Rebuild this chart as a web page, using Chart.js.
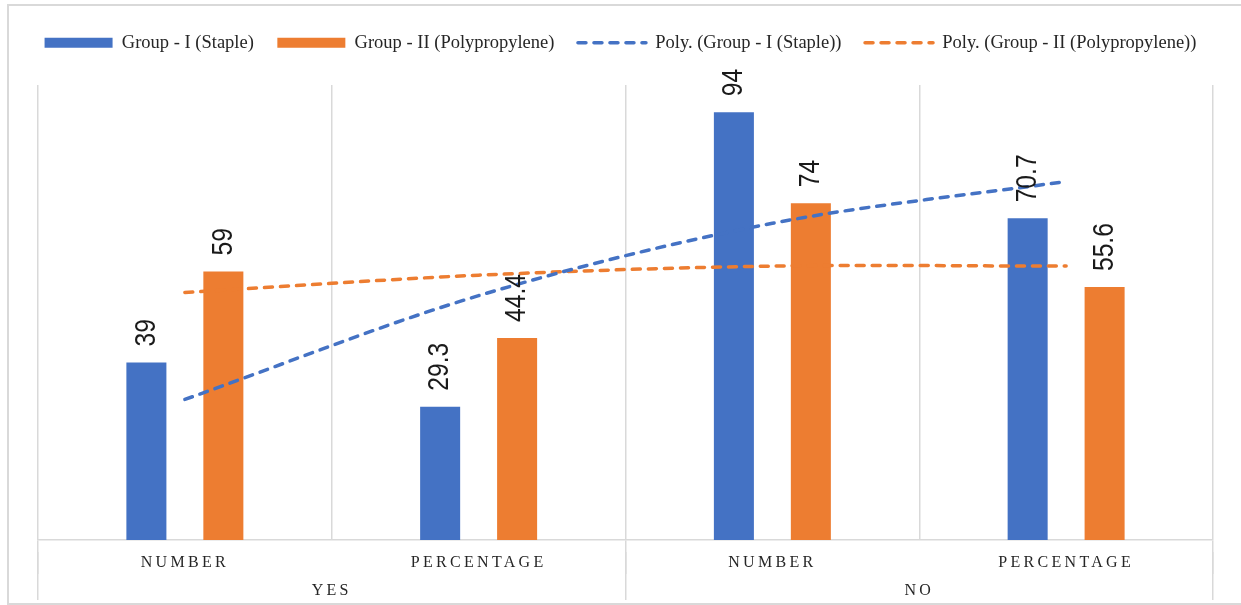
<!DOCTYPE html>
<html lang="en">
  <head>
    <meta charset="UTF-8" />
    <title>Group I (Staple) vs Group II (Polypropylene)</title>
    <script src="https://cdn.jsdelivr.net/npm/chart.js"></script>
    <style>
      body {
        margin: 0;
        background-color: #ffffff;
      }

      .wrap {
        position: relative;
        width: 1241px;
        height: 605px;
        overflow: hidden;
      }

      .frame {
        position: absolute;
        left: 7px;
        top: 4px;
        width: 1300px;
        height: 601px;
        box-sizing: border-box;
        border: 2px solid #d9d9d9;
      }

      canvas {
        position: absolute;
        left: 0;
        top: 0;
      }
    </style>
  </head>
  <body>
    <div class="wrap">
      <div class="frame"></div>
      <canvas id="groupChart" width="1241" height="605"></canvas>
    </div>

    <script>
      // categories (two levels) and series
      const categories = ["NUMBER", "PERCENTAGE", "NUMBER", "PERCENTAGE"];
      const groups = ["YES", "NO"];
      const stapleValues = [39, 29.3, 94, 70.7];
      const polyValues = [59, 44.4, 74, 55.6];

      // polynomial trendlines at each category
      const stapleTrend = [30.9, 53.7, 69.6, 78.8];
      const polyTrend = [54.4, 58.2, 60.2, 60.2];

      const blue = "#4472c4";
      const orange = "#ed7d31";
      const gridColor = "#d9d9d9";
      const serif = '"Liberation Serif", "Times New Roman", serif';

      // value labels drawn rotated above each bar
      const barLabels = {
        id: "barLabels",
        afterDatasetsDraw(chart) {
          const ctx = chart.ctx;
          [0, 1].forEach((di) => {
            const meta = chart.getDatasetMeta(di);
            const values = chart.data.datasets[di].data;
            meta.data.forEach((bar, i) => {
              ctx.save();
              ctx.translate(bar.x, bar.y - 16);
              ctx.rotate(-Math.PI / 2);
              ctx.scale(0.82, 1);
              ctx.font = '30px "Liberation Sans", Arial, sans-serif';
              ctx.fillStyle = "#1a1a1a";
              ctx.textAlign = "left";
              ctx.textBaseline = "middle";
              ctx.fillText(String(values[i]), 0, 0);
              ctx.restore();
            });
          });
        },
      };

      // spaced capitals on the category axes, labels not clipped to the axis box
      const spacedTicks = {
        id: "spacedTicks",
        beforeDraw(chart) {
          ["x", "x2"].forEach((id) => {
            const scale = chart.scales[id];
            if (!scale || scale._spaced) return;
            const orig = scale.drawLabels;
            scale._computeLabelArea = () => undefined;
            scale.drawLabels = function (area) {
              this.ctx.save();
              this.ctx.letterSpacing = "3.3px";
              orig.call(this, area);
              this.ctx.restore();
            };
            scale._spaced = true;
          });
        },
      };

      // extra room between the legend and the plot
      const legendGap = {
        id: "legendGap",
        beforeInit(chart) {
          const fit = chart.legend.fit;
          chart.legend.fit = function () {
            fit.call(this);
            this.height += 23;
          };
        },
      };

      // gridline goes below the axis only at the YES / NO boundaries
      const tickColor = (c) =>
        c.index === 1 || c.index === 3 ? "rgba(0,0,0,0)" : gridColor;

      // empty side axes only reserve room for the plot area
      const spacer = (w, pos) => ({
        type: "linear",
        position: pos,
        min: 0,
        max: 100,
        ticks: { display: false },
        grid: { display: false },
        border: { display: false },
        afterFit: (s) => {
          s.width = w;
        },
      });

      const trendLine = (label, data, color) => ({
        type: "line",
        label: label,
        data: data,
        borderColor: color,
        backgroundColor: color,
        borderWidth: 3.5,
        borderDash: [8, 8],
        borderCapStyle: "round",
        pointRadius: 0,
        tension: 0.33,
        order: 0,
      });

      new Chart(document.getElementById("groupChart"), {
        type: "bar",
        data: {
          labels: categories,
          datasets: [
            {
              label: "Group - I (Staple)",
              data: stapleValues,
              backgroundColor: blue,
              borderWidth: 0,
              categoryPercentage: 0.524,
              barPercentage: 0.52,
              order: 1,
            },
            {
              label: "Group - II (Polypropylene)",
              data: polyValues,
              backgroundColor: orange,
              borderWidth: 0,
              categoryPercentage: 0.524,
              barPercentage: 0.52,
              order: 1,
            },
            trendLine("Poly. (Group - I (Staple))", stapleTrend, blue),
            trendLine("Poly. (Group - II (Polypropylene))", polyTrend, orange),
          ],
        },
        options: {
          responsive: false,
          animation: false,
          layout: {
            padding: { left: 0, right: 0, top: 10, bottom: 23 },
          },
          plugins: {
            tooltip: { enabled: false },
            legend: {
              position: "top",
              labels: {
                usePointStyle: true,
                pointStyleWidth: 68,
                boxHeight: 10,
                padding: 23.5,
                color: "#262626",
                font: { family: serif, size: 18.5 },
                sort: (a, b) => a.datasetIndex - b.datasetIndex,
                generateLabels(chart) {
                  const items = Chart.defaults.plugins.legend.labels.generateLabels(chart);
                  items.forEach((item) => {
                    const ds = chart.data.datasets[item.datasetIndex];
                    if (ds.type === "line") {
                      item.pointStyle = "line";
                      item.lineWidth = 3.5;
                      item.lineDash = [8, 8];
                      item.lineCap = "round";
                    } else {
                      item.pointStyle = "rect";
                      item.lineWidth = 0;
                    }
                  });
                  return items;
                },
              },
            },
          },
          scales: {
            x: {
              type: "category",
              position: "bottom",
              weight: 0,
              offset: true,
              grid: {
                offset: true,
                color: gridColor,
                lineWidth: 1.5,
                tickColor: tickColor,
                tickWidth: 1.5,
                tickLength: 34,
              },
              border: { display: true, color: gridColor, width: 1.5 },
              ticks: {
                color: "#262626",
                padding: -20.6,
                maxRotation: 0,
                autoSkip: false,
                font: { family: serif, size: 16 },
              },
            },
            x2: {
              type: "category",
              labels: groups,
              position: "bottom",
              weight: 1,
              offset: true,
              grid: {
                offset: true,
                drawOnChartArea: false,
                color: gridColor,
                lineWidth: 1.5,
                tickColor: gridColor,
                tickWidth: 1.5,
                tickLength: 48,
              },
              border: { display: false },
              ticks: {
                color: "#262626",
                padding: -18.6,
                maxRotation: 0,
                autoSkip: false,
                font: { family: serif, size: 16 },
              },
            },
            y: spacer(38, "left"),
            yr: spacer(28, "right"),
          },
        },
        plugins: [barLabels, spacedTicks, legendGap],
      });
    </script>
  </body>
</html>
